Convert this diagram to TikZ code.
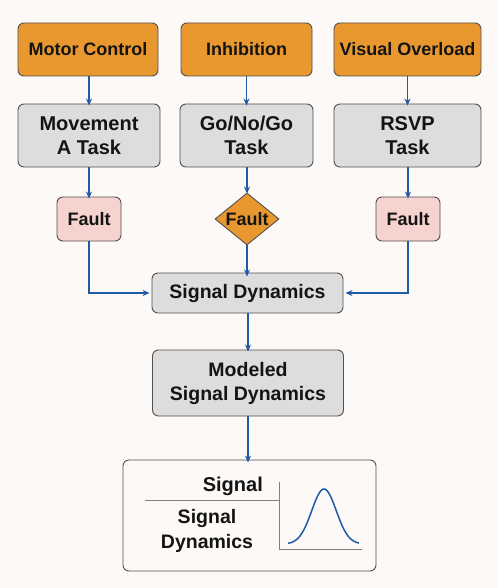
\documentclass[tikz,border=0pt]{standalone}
\usepackage{fontspec}
\setmainfont{Liberation Sans}
\usetikzlibrary{arrows.meta,shapes.geometric}
\definecolor{bgcream}{HTML}{FCF9F6}
\definecolor{boxorange}{HTML}{E8982F}
\definecolor{boxgray}{HTML}{DDDDDD}
\definecolor{boxpink}{HTML}{F6D3CF}
\definecolor{arrblue}{HTML}{1F5AA6}
\definecolor{edgegray}{HTML}{505050}
\definecolor{txtdark}{HTML}{141414}

\begin{document}
\begin{tikzpicture}[x=1pt, y=-1pt,
  basebox/.style={draw=edgegray, line width=0.9pt, rounded corners=6pt, text=txtdark, align=center, inner sep=0pt},
  orangebox/.style={basebox, fill=boxorange, minimum height=53pt, font=\fontsize{18}{21}\selectfont\bfseries},
  graybox/.style={basebox, fill=boxgray, font=\fontsize{20}{24}\selectfont\bfseries},
  faultbox/.style={basebox, fill=boxpink, minimum width=64pt, minimum height=44pt, font=\fontsize{18}{21}\selectfont\bfseries},
  faultdia/.style={diamond, draw=edgegray, line width=0.9pt, fill=boxorange, minimum width=64pt, minimum height=52pt, inner sep=0pt, label={[text=txtdark, font=\fontsize{18}{21}\selectfont\bfseries]center:Fault}},
  arr/.style={draw=arrblue, line width=1.4pt, -{Stealth[length=7pt, width=6pt]}},
  thinline/.style={draw=black!50, line width=0.9pt}]
\useasboundingbox[fill=bgcream] (0,0) rectangle (498,588);
\node[orangebox, minimum width=140pt] (motor) at (88,49.5) {Motor Control};
\node[orangebox, minimum width=131pt] (inhib) at (246.5,49.5) {Inhibition};
\node[orangebox, minimum width=147pt] (visual) at (407.5,49.5) {Visual Overload};
\node[graybox, minimum width=142pt, minimum height=63pt] (movetask) at (89,135.5) {Movement\\A Task};
\node[graybox, minimum width=133pt, minimum height=63pt] (gotask) at (246.5,135.5) {Go/No/Go\\Task};
\node[graybox, minimum width=147pt, minimum height=63pt] (rsvptask) at (407.5,135.5) {RSVP\\Task};
\node[faultbox] (faultl) at (89,219) {Fault};
\node[faultdia] (faultm) at (247,219) {};
\node[faultbox] (faultr) at (408,219) {Fault};
\node[graybox, minimum width=191pt, minimum height=40pt, font=\fontsize{19.5}{23}\selectfont\bfseries] (sigdyn) at (247.5,293) {Signal Dynamics};
\node[graybox, minimum width=191pt, minimum height=66pt, font=\fontsize{19.5}{24}\selectfont\bfseries] (modeled) at (248,383) {Modeled\\Signal Dynamics};
\node[basebox, fill=bgcream, minimum width=253pt, minimum height=111pt] (result) at (249.5,515.5) {};
\draw[arr] (motor.south -| movetask) -- ([yshift=-2pt]movetask.north);
\draw[arr] (inhib.south -| gotask) -- ([yshift=-2pt]gotask.north);
\draw[arr] (visual.south -| rsvptask) -- ([yshift=-2pt]rsvptask.north);
\draw[arr] (movetask.south) -- ([yshift=-2pt]faultl.north);
\draw[arr] (gotask.south -| faultm) -- ([yshift=-1pt]faultm.north);
\draw[arr] (rsvptask.south -| faultr) -- ([yshift=-2pt]faultr.north);
\draw[arr] (faultl.south) |- ([xshift=-2pt]sigdyn.west);
\draw[arr] (faultr.south) |- ([xshift=2pt]sigdyn.east);
\draw[arr] (faultm.south) -- ([yshift=-4pt]faultm.south |- sigdyn.north);
\draw[arr] (sigdyn.south -| modeled) -- ([yshift=-2pt]modeled.north);
\draw[arr] (modeled.south) -- ([yshift=-3pt]modeled.south |- result.north);
\node[anchor=base east, inner sep=0pt, text=txtdark, font=\fontsize{20}{24}\selectfont\bfseries] (sigtitle) at (263,491) {Signal};
\node[align=center, inner sep=0pt, text=txtdark, font=\fontsize{19.5}{25}\selectfont\bfseries] (sigtext) at (207,531) {Signal\\Dynamics};
\draw[thinline] (145,500) -- (279,500);
\draw[thinline] (279,482) -- (279,549) -- (362,549);
\draw[arrblue, line width=1.5pt] plot[domain=288:359, samples=80, smooth] (\x, {544-55*exp(-((\x-324)^2)/300)});
\end{tikzpicture}
\end{document}
